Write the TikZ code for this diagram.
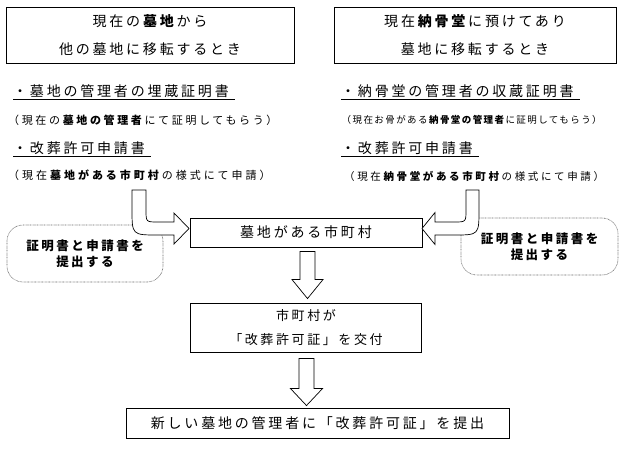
\documentclass[tikz,border=0pt]{standalone}
\usepackage{fontspec}
\newfontfamily\jp[LetterSpace=20]{Noto Sans CJK JP}
\usetikzlibrary{calc}
\tikzset{
  box/.style={draw, line width=0.9pt, inner sep=0pt, align=center},
  note/.style={draw=black!60, dash pattern=on 0.7pt off 0.7pt, line width=0.6pt,
    rounded corners=16pt, align=center, inner sep=0pt},
  txt/.style={inner sep=0pt, anchor=west},
  blk/.style={draw, fill=white, line width=0.7pt, line join=miter},
  uline/.style={line width=0.9pt},
  bigf/.style={font=\jp\fontsize{14pt}{28.5pt}\selectfont},
  midf/.style={font=\jp\fontsize{13pt}{24pt}\selectfont},
  smla/.style={font=\jp\addfontfeature{LetterSpace=24}\fontsize{11pt}{12pt}\selectfont},
  smlb/.style={font=\jp\addfontfeature{LetterSpace=27}\fontsize{11pt}{12pt}\selectfont},
  smrf/.style={font=\jp\addfontfeature{LetterSpace=15}\fontsize{9.5pt}{12pt}\selectfont},
  smrg/.style={font=\jp\addfontfeature{LetterSpace=25}\fontsize{10.5pt}{12pt}\selectfont},
  notef/.style={font=\jp\bfseries\fontsize{12.5pt}{16.5pt}\selectfont},
}
\begin{document}
\begin{tikzpicture}[x=1pt,y=-1pt]
\useasboundingbox (0,0) rectangle (626,448);
% top boxes
\node[box, bigf, minimum width=288pt, minimum height=56pt] (t1) at (150,35)
  {現在の\textbf{墓地}から\\他の墓地に移転するとき};
\node[box, bigf, minimum width=282pt, minimum height=56pt] (t2) at (475,35)
  {現在\textbf{納骨堂}に預けてあり\\墓地に移転するとき};
% left column
\node[txt, bigf] (l1) at (13,91.5) {・墓地の管理者の埋蔵証明書};
\node[txt, smla] (l2) at (8,120) {（現在の\textbf{墓地の管理者}にて証明してもらう）};
\node[txt, bigf] (l3) at (13,148.5) {・改葬許可申請書};
\node[txt, smlb] (l4) at (8,175.5) {（現在\textbf{墓地がある市町村}の様式にて申請）};
% right column
\node[txt, bigf] (r1) at (341,91.5) {・納骨堂の管理者の収蔵証明書};
\node[txt, smrf] (r2) at (341.5,120) {（現在お骨がある\textbf{納骨堂の管理者}に証明してもらう）};
\node[txt, bigf] (r3) at (341,148.5) {・改葬許可申請書};
\node[txt, smrg] (r4) at (344,176) {（現在\textbf{納骨堂がある市町村}の様式にて申請）};
% underlines
\draw[uline] ([yshift=-1pt]l1.south west) -- ([yshift=-1pt,xshift=6pt]l1.south east);
\draw[uline] ([yshift=-1pt]l3.south west) -- ([yshift=-1pt,xshift=6pt]l3.south east);
\draw[uline] ([yshift=-1pt]r1.south west) -- ([yshift=-1pt,xshift=6pt]r1.south east);
\draw[uline] ([yshift=-1pt]r3.south west) -- ([yshift=-1pt,xshift=6pt]r3.south east);
% flow boxes
\node[box, bigf, minimum width=232pt, minimum height=29pt] (muni) at (306,232.5) {墓地がある市町村};
\node[box, midf, minimum width=231pt, minimum height=49pt] (issue) at (306,327.5)
  {市町村が\\「改葬許可証」を交付};
\node[box, bigf, minimum width=383pt, minimum height=30pt] (final) at (317.5,423)
  {新しい墓地の管理者に「改葬許可証」を提出};
% notes
\node[note, notef, minimum width=156pt, minimum height=57pt] (nl) at (85,253.5)
  {証明書と申請書を\\提出する};
\node[note, notef, minimum width=157pt, minimum height=57pt] (nr) at (539.5,246.5)
  {証明書と申請書を\\提出する};
% bent arrows
\draw[blk] (132,190) -- (146,190) -- (146,210) .. controls (146,222) .. (158,222)
  -- (174,222) -- (174,213) -- (189,228.5) -- (174,244) -- (174,235) -- (158,235)
  .. controls (132,235) .. (132,209) -- cycle;
\draw[blk] (479,190) -- (466,190) -- (466,210) .. controls (466,222) .. (454,222)
  -- (435,222) -- (435,212.5) -- (422,228.5) -- (435,244.5) -- (435,235) -- (454,235)
  .. controls (479,235) .. (479,209) -- cycle;
% down arrows
\draw[blk] let \p1=([xshift=1.5pt,yshift=-4pt]muni.south), \p2=([xshift=1.5pt,yshift=4pt]issue.north) in
  (\x1-7.5pt,\y1) -- (\x1+7.5pt,\y1) -- (\x1+7.5pt,\y2+19pt) -- (\x1+15.5pt,\y2+19pt)
  -- (\x1,\y2) -- (\x1-15.5pt,\y2+19pt) -- (\x1-7.5pt,\y2+19pt) -- cycle;
\draw[blk] let \p1=([xshift=0.5pt,yshift=-6pt]issue.south), \p2=([xshift=0.5pt,yshift=2pt]final.north) in
  (\x1-7.5pt,\y1) -- (\x1+7.5pt,\y1) -- (\x1+7.5pt,\y2+17pt) -- (\x1+16pt,\y2+17pt)
  -- (\x1,\y2) -- (\x1-16pt,\y2+17pt) -- (\x1-7.5pt,\y2+17pt) -- cycle;
\end{tikzpicture}
\end{document}
